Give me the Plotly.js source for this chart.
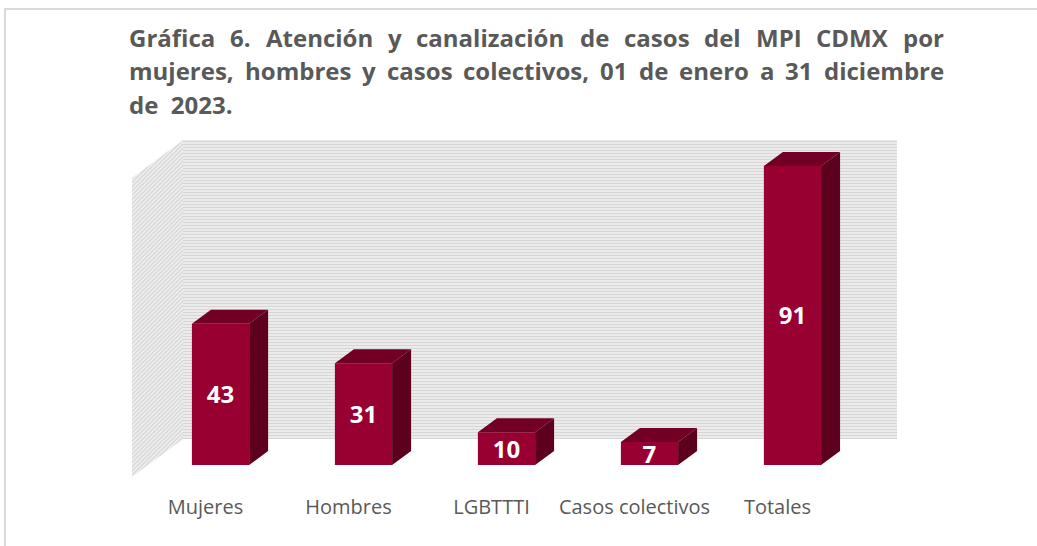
<!DOCTYPE html>
<html>
<head>
<meta charset="utf-8">
<script src="https://cdn.plot.ly/plotly-3.0.1.min.js"></script>
<style>html,body{margin:0;padding:0;background:#fff;}#chart{width:1037px;height:546px;}</style>
</head>
<body>
<div id="chart"></div>
<script>
// ---- data ----
const categories = ['Mujeres', 'Hombres', 'LGBTTTI', 'Casos colectivos', 'Totales'];
const values = [43, 31, 10, 7, 91];
const titleLines = [
  'Gráfica 6. Atención y canalización de casos del MPI CDMX por',
  'mujeres, hombres y casos colectivos, 01 de enero a 31 diciembre',
  'de  2023.'
];

// ---- layout geometry (pixels) ----
const W = 1037, H = 546;
const M = {l: 132, r: 140, t: 140, b: 69};
const PW = W - M.l - M.r, PH = H - M.t - M.b;
const xRange = [-0.619, 4.731];
const yRange = [-3.65, 98.9];
const ux = PW / (xRange[1] - xRange[0]);   // px per x unit
const uy = PH / (yRange[1] - yRange[0]);   // px per y unit
const wallDX = 51 / ux, wallDY = 38 / uy;  // depth of side wall
const barDX = 19 / ux, barDY = 14 / uy;    // depth of bars
const halfW = 0.2;
const labelShift = 15 / ux;
const labelDrop = 3 / uy;

const toPX = px => (px - M.l) / PW;
const toPY = py => (H - M.b - py) / PH;

const frontCol = '#970030', topCol = '#710024', sideCol = '#5c001d';
const textCol = '#595959';

// ---- walls ----
const xb0 = xRange[0] + wallDX, yb0 = yRange[0] + wallDY;
const backWall = {
  type: 'scatter', mode: 'lines', hoverinfo: 'skip', showlegend: false,
  x: [xb0, xRange[1], xRange[1], xb0, xb0],
  y: [yb0, yb0, yRange[1], yRange[1], yb0],
  fill: 'toself', line: {width: 0, color: 'rgba(0,0,0,0)'},
  fillcolor: '#f2f2f2',
  fillpattern: {shape: '-', bgcolor: '#f3f3f3', fgcolor: '#d6d6d6', size: 3, solidity: 0.5}
};
const sideWall = {
  type: 'scatter', mode: 'lines', hoverinfo: 'skip', showlegend: false,
  x: [xRange[0], xb0, xb0, xRange[0], xRange[0]],
  y: [yRange[0], yb0, yRange[1], yRange[1] - wallDY, yRange[0]],
  fill: 'toself', line: {width: 0, color: 'rgba(0,0,0,0)'},
  fillcolor: '#f2f2f2',
  fillpattern: {shape: '/', bgcolor: '#f3f3f3', fgcolor: '#d6d6d6', size: 3, solidity: 0.5}
};

// ---- bars ----
const idx = categories.map((c, i) => i);
const front = {
  type: 'bar', x: idx, y: values, width: 2 * halfW, xaxis: 'x2', yaxis: 'y2',
  marker: {color: frontCol, line: {width: 0}}, hoverinfo: 'skip', showlegend: false
};
const topX = [], topY = [], sideX = [], sideY = [];
values.forEach((v, i) => {
  topX.push(i - halfW, i - halfW + barDX, i + halfW + barDX, i + halfW, i - halfW, null);
  topY.push(v, v + barDY, v + barDY, v, v, null);
  sideX.push(i + halfW, i + halfW, i + halfW + barDX, i + halfW + barDX, i + halfW, null);
  sideY.push(0, v, v + barDY, barDY, 0, null);
});
const topFace = {
  type: 'scatter', mode: 'lines', x: topX, y: topY, xaxis: 'x2', yaxis: 'y2',
  fill: 'toself', fillcolor: topCol, line: {width: 0, color: topCol},
  hoverinfo: 'skip', showlegend: false
};
const sideFace = {
  type: 'scatter', mode: 'lines', x: sideX, y: sideY, xaxis: 'x2', yaxis: 'y2',
  fill: 'toself', fillcolor: sideCol, line: {width: 0, color: sideCol},
  hoverinfo: 'skip', showlegend: false
};
const labels = {
  type: 'scatter', mode: 'text', x: idx, y: values.map(v => v / 2 - labelDrop),
  text: values.map(String), xaxis: 'x2', yaxis: 'y2', cliponaxis: false,
  textfont: {family: 'Open Sans', size: 24, color: '#ffffff', weight: 'bold'},
  hoverinfo: 'skip', showlegend: false
};

// ---- title (justified lines) ----
const titleFont = {family: 'Open Sans', size: 24, color: textCol, weight: 'bold'};
const tLeft = 128, tRight = 943;
const lineY = [37, 71, 104];
const ctx = document.createElement('canvas').getContext('2d');
ctx.font = 'bold ' + titleFont.size + 'px "Open Sans"';
const annotations = [];
titleLines.forEach((ln, k) => {
  if (k < 2) {
    const words = ln.split(' ');
    const ws = words.map(w => ctx.measureText(w).width);
    const sum = ws.reduce((a, b) => a + b, 0);
    const gap = (tRight - tLeft - sum) / (words.length - 1);
    let x = tLeft;
    words.forEach((w, j) => {
      annotations.push({text: w, xref: 'paper', yref: 'paper', x: toPX(x - 1), y: toPY(lineY[k]),
        xanchor: 'left', yanchor: 'middle', showarrow: false, font: titleFont});
      x += ws[j] + gap;
    });
  } else {
    annotations.push({text: ln.replace(/ /g, '\u00a0'), xref: 'paper', yref: 'paper', x: toPX(tLeft - 1), y: toPY(lineY[k]),
      xanchor: 'left', yanchor: 'middle', showarrow: false, font: titleFont});
  }
});

const layout = {
  width: W, height: H, margin: M,
  paper_bgcolor: '#ffffff', plot_bgcolor: 'rgba(0,0,0,0)',
  showlegend: false,
  xaxis: {range: xRange, showgrid: false, zeroline: false, showline: false,
    tickmode: 'array', tickvals: idx.map(i => i - labelShift), ticktext: categories,
    ticks: 'outside', ticklen: 12, tickcolor: 'rgba(0,0,0,0)',
    tickfont: {family: 'Open Sans', size: 20, color: textCol}, fixedrange: true},
  yaxis: {range: yRange, showgrid: false, zeroline: false, showline: false,
    showticklabels: false, ticks: '', fixedrange: true},
  xaxis2: {range: xRange, overlaying: 'x', visible: false, fixedrange: true},
  yaxis2: {range: yRange, overlaying: 'y', visible: false, fixedrange: true},
  annotations: annotations,
  shapes: [{type: 'rect', xref: 'paper', yref: 'paper',
    x0: toPX(5), x1: toPX(1050), y0: toPY(9), y1: toPY(560),
    line: {color: '#d9d9d9', width: 2}, fillcolor: 'rgba(0,0,0,0)', layer: 'below'}]
};

Plotly.newPlot('chart', [backWall, sideWall, front, topFace, sideFace, labels], layout,
  {displayModeBar: false, staticPlot: true});
</script>
</body>
</html>
